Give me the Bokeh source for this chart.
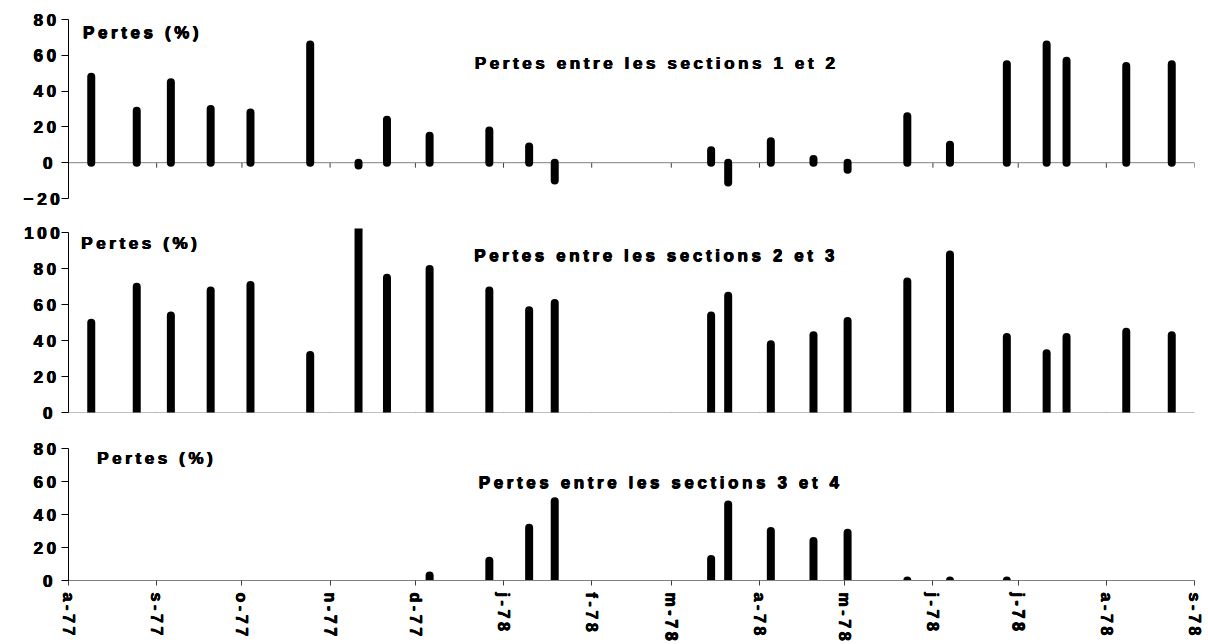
import numpy as np
import pandas as pd
from bokeh.plotting import figure
from bokeh.models import Range1d, FixedTicker, Span, Label, ColumnDataSource
from bokeh.layouts import column
from bokeh.embed import file_html
from bokeh.resources import INLINE

# ---------------- data ----------------
origin = pd.Timestamp("1977-08-01")
axis_end = pd.Timestamp("1978-09-01")

dates = ["1977-08-09", "1977-08-25", "1977-09-06", "1977-09-20", "1977-10-04",
         "1977-10-25", "1977-11-11", "1977-11-21", "1977-12-06", "1977-12-27",
         "1978-01-10", "1978-01-19", "1978-03-15", "1978-03-21", "1978-04-05",
         "1978-04-20", "1978-05-02", "1978-05-23", "1978-06-07", "1978-06-27",
         "1978-07-11", "1978-07-18", "1978-08-08", "1978-08-24"]

pertes_1_2 = [48, 29, 45, 30, 28, 66, -1.5, 24, 15, 18, 9, -10,
              7, -11, 12, 2, -4, 26, 10, 55, 66, 57, 54, 55]
pertes_2_3 = [50, 70, 54, 68, 71, 32, 106, 75, 80, 68, 57, 61,
              54, 65, 38, 43, 51, 73, 88, 42, 33, 42, 45, 43]
pertes_3_4 = [None, None, None, None, None, None, None, None, 3, 12, 32, 48,
              13, 46, 30, 24, 29, 0, 0, 0, None, None, None, None]

tick_labels = ["a-77", "s-77", "o-77", "n-77", "d-77", "j-78", "f-78",
               "m-78", "a-78", "m-78", "j-78", "j-78", "a-78", "s-78"]

titles = ["Pertes entre les sections 1 et 2",
          "Pertes entre les sections 2 et 3",
          "Pertes entre les sections 3 et 4"]
ylabel = "Pertes (%)"

# ---------------- derived ----------------
x_days = np.asarray((pd.to_datetime(dates) - origin).days, dtype=float)
month_starts = pd.date_range(origin, periods=len(tick_labels), freq="MS")
tick_days = [int((d - origin).days) for d in month_starts]
x_max = float((axis_end - origin).days)

FONT = "Liberation Sans"
FSIZE = "17px"
BAR_W = 8
AXIS_GREY = "#808080"
TICK_GREY = "#404040"
TEXT_STYLE = {"letter-spacing": "3.6px",
              "text-shadow": "0.45px 0 0 #000, -0.45px 0 0 #000, 0 0.35px 0 #000"}


def style_yaxis(p, ticks, bounds=None):
    ax = p.yaxis[0]
    ax.ticker = FixedTicker(ticks=ticks)
    ax.axis_line_color = "black"
    ax.axis_line_width = 1
    ax.major_tick_line_color = "black"
    ax.major_tick_out = 7
    ax.major_tick_in = 0
    ax.minor_tick_line_color = None
    ax.major_label_text_font = FONT
    ax.major_label_text_font_style = "bold"
    ax.major_label_text_font_size = FSIZE
    ax.major_label_text_color = "black"
    ax.major_label_standoff = 9
    if bounds is not None:
        ax.bounds = bounds


def zero_axis(p, tick_len):
    p.add_layout(Span(location=0, dimension="width", line_color=AXIS_GREY,
                      line_width=1, level="underlay"))
    tick_src = ColumnDataSource(dict(x=tick_days))
    p.segment(x0="x", y0=0, x1="x", y1=-tick_len, source=tick_src,
              line_color=TICK_GREY, line_width=1, level="underlay")


def make_panel(values, y0, y1, yticks, width, height, left, right, top, bottom,
               x_axis, lab_pos, title_pos, title, ybounds=None):
    p = figure(width=width, height=height,
               x_range=Range1d(0, x_max), y_range=Range1d(y0, y1),
               output_backend="svg", toolbar_location=None,
               x_axis_location=("below" if x_axis else None),
               min_border_left=left, min_border_right=right,
               min_border_top=top, min_border_bottom=bottom)
    p.outline_line_color = None
    p.grid.visible = False
    p.background_fill_color = "white"
    p.border_fill_color = "white"
    p.styles = TEXT_STYLE
    style_yaxis(p, yticks, ybounds)

    v = pd.Series(values, dtype=float)
    mask = v.notna().values
    src = ColumnDataSource(dict(x=x_days[mask], v=v[mask].values))
    p.segment(x0="x", y0=0, x1="x", y1="v", source=src,
              line_color="black", line_width=BAR_W, line_cap="round")

    p.add_layout(Label(x=lab_pos[0], y=lab_pos[1], text=ylabel,
                       text_font=FONT, text_font_style="bold",
                       text_font_size=FSIZE, text_color="black",
                       text_baseline="alphabetic", text_align="left"))
    p.add_layout(Label(x=title_pos[0], y=title_pos[1], text=title,
                       text_font=FONT, text_font_style="bold",
                       text_font_size=FSIZE, text_color="black",
                       text_baseline="alphabetic", text_align="left"))
    return p


# Panel 1 : x axis crossing at 0
p1 = make_panel(pertes_1_2, -20, 80, [-20, 0, 20, 40, 60, 80],
                1208, 208, 68, 4, 19, 10, False,
                (5.1, 72.6), (142.9, 55.5), titles[0])
zero_axis(p1, 2.8)

# Panel 2
p2 = make_panel(pertes_2_3, 0, 102.5, [0, 20, 40, 60, 80, 100],
                1208, 220, 68, 4, 20, 16, False,
                (4.5, 94.4), (142.7, 87.3), titles[1], ybounds=(0, 100))
zero_axis(p2, 2.8)

# Panel 3
p3 = make_panel(pertes_3_4, 0, 80, [0, 20, 40, 60, 80],
                1208, 216, 64, 14, 20, 64, True,
                (10.1, 73.9), (144.3, 59.1), titles[2])
ax3 = p3.xaxis[0]
ax3.ticker = FixedTicker(ticks=tick_days)
ax3.major_label_overrides = {d: lab for d, lab in zip(tick_days, tick_labels)}
ax3.axis_line_color = AXIS_GREY
ax3.major_tick_line_color = TICK_GREY
ax3.major_tick_out = 5
ax3.major_tick_in = 0
ax3.minor_tick_line_color = None
ax3.major_label_orientation = "vertical"
ax3.major_label_text_font = FONT
ax3.major_label_text_font_style = "bold"
ax3.major_label_text_font_size = "16px"
ax3.major_label_text_color = "black"
ax3.major_label_standoff = 7

layout = column(p1, p2, p3, spacing=0)
open("out.html", "w").write(file_html(layout, INLINE))
